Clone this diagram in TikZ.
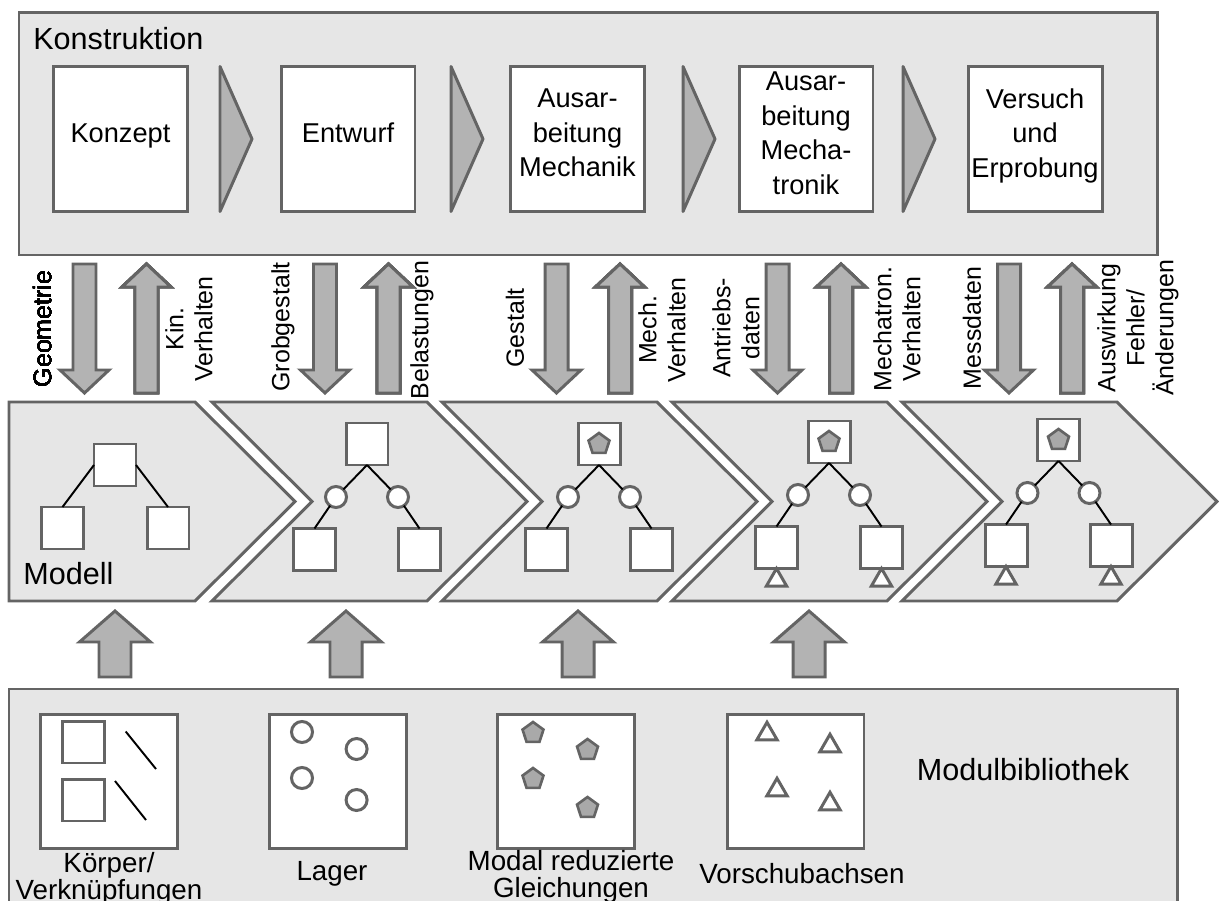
\documentclass[tikz,border=0pt]{standalone}
\usepackage{fontspec}
\setmainfont{Liberation Sans}
\usepackage{tikz}
\usetikzlibrary{shapes.geometric}

\definecolor{panelgray}{HTML}{E6E6E6}
\definecolor{arrowgray}{HTML}{B3B3B3}
\definecolor{modalgray}{HTML}{A9A9A9}
\definecolor{edgegray}{HTML}{646464}

\newcommand{\titlefont}{\fontsize{17.4}{21}\selectfont}
\newcommand{\boxfont}{\fontsize{15.5}{19.6}\selectfont}
\newcommand{\arrowfont}{\fontsize{14.2}{16.5}\selectfont}
\newcommand{\libfont}{\fontsize{15.8}{15.4}\selectfont}

% block arrow: x, tail y, head base y, tip y, half shaft, half head
\newcommand{\blockarrow}[6]{%
  \draw [flow] (#1-#5,#2) -- (#1+#5,#2) -- (#1+#5,#3) -- (#1+#6,#3) -- (#1,#4)
    -- (#1-#6,#3) -- (#1-#5,#3) -- cycle;}

\begin{document}
\begin{tikzpicture}[x=0.02cm, y=-0.02cm,
  panel/.style={fill=panelgray, draw=edgegray, line width=1.7pt},
  stepbox/.style={draw=edgegray, fill=white, line width=1.7pt, minimum width=2.68cm,
    minimum height=2.9cm, inner sep=0pt, align=center, font=\boxfont, text depth=0.24cm},
  stepchev/.style={fill=arrowgray, draw=edgegray, line width=1.7pt, line join=round},
  flow/.style={fill=arrowgray, draw=edgegray, line width=1.7pt},
  flowtext/.style={rotate=90, align=center, font=\arrowfont, inner sep=0pt},
  title/.style={font=\titlefont, inner sep=0pt},
  leaf/.style={draw=edgegray, fill=white, line width=1.7pt, minimum size=0.84cm,
    inner sep=0pt, outer sep=0pt},
  joint/.style={circle, draw=edgegray, fill=white, line width=1.7pt,
    minimum size=0.42cm, inner sep=0pt, outer sep=0pt},
  modal/.style={regular polygon, regular polygon sides=5, draw=edgegray,
    fill=modalgray, line width=1.5pt, minimum size=0.44cm, inner sep=0pt},
  axis/.style={regular polygon, regular polygon sides=3, draw=edgegray, fill=white,
    line width=1.7pt, minimum size=0.47cm, inner sep=0pt, outer sep=0pt},
  link/.style={black, line width=1.1pt},
  libbox/.style={draw=edgegray, fill=white, line width=1.7pt, minimum width=2.74cm,
    minimum height=2.68cm, inner sep=0pt},
  libtext/.style={align=center, font=\libfont, inner sep=0pt}]
\useasboundingbox (0,0) rectangle (1219,901);
\clip (0,0) rectangle (1219,901);

% Konstruktion
\draw [panel] (19,13) rectangle (1157,255);
\node [title, anchor=base west] (konstruktion) at (33,50) {Konstruktion};
\node [stepbox] (konzept) at (120.5,139) {Konzept};
\node [stepbox] (entwurf) at (348,139) {Entwurf};
\node [stepbox] (mechanik) at (577.5,139) {Ausar-\\beitung\\Mechanik};
\node [stepbox] (mechatronik) at (806,139) {Ausar-\\beitung\\Mecha-\\tronik};
\node [stepbox] (versuch) at (1035,139) {Versuch\\und\\Erprobung};
\foreach \a in {220,451,683,903}
  \draw [stepchev] (\a,66.5) -- (\a+32,139) -- (\a,211.5) -- cycle;

% exchange between Konstruktion and Modell
\foreach \x in {84.5,325,556.5,777.5,1009}
  \blockarrow{\x}{264}{370}{393}{11.5}{24.5}
\foreach \x in {146.5,388.5,620,841,1072}
  \blockarrow{\x}{393}{287}{264}{11.5}{24.5}
\node [flowtext] (geometrie) at (42.3,329) {Geometrie};
\node [flowtext] (kin) at (189,329) {Kin.\\Verhalten};
\node [flowtext] (grobgestalt) at (283,327) {Grobgestalt};
\node [flowtext] (belastungen) at (422,330) {Belastungen};
\node [flowtext] (gestalt) at (515,328) {Gestalt};
\node [flowtext] (mech) at (662,330) {Mech.\\Verhalten};
\node [flowtext] (antrieb) at (736,328) {Antriebs-\\daten};
\node [flowtext] (mechatron) at (897,329) {Mechatron.\\Verhalten};
\node [flowtext] (messdaten) at (972,328) {Messdaten};
\node [flowtext] (auswirkung) at (1138,328) {Auswirkung\\Fehler/\\Änderungen};

% Modell
\draw [panel] (9,402) -- (195,402) -- (295,501.5) -- (195,601) -- (9,601) -- cycle;
\foreach \l in {212,442,672,902}
  \draw [panel] (\l,402) -- (\l+215,402) -- (\l+315,501.5) -- (\l+215,601)
    -- (\l,601) -- (\l+100,501.5) -- cycle;
\node [title, anchor=base west] (modell) at (23,584) {Modell};

\node [leaf] (t1) at (115,465) {};
\node [leaf] (bl1) at (62.5,528) {};
\node [leaf] (br1) at (168,528) {};
\draw [link] (t1.west) -- (bl1.north) (t1.east) -- (br1.north);

\foreach \n/\tx/\ty in {2/367/444,3/599/444,4/829/442,5/1058.5/440} {
  \node [leaf] (t\n) at (\tx,\ty) {};
  \node [joint] (cl\n) at (\tx-31,\ty+53) {};
  \node [joint] (cr\n) at (\tx+31,\ty+53) {};
  \node [leaf] (bl\n) at (\tx-52.5,\ty+105.5) {};
  \node [leaf] (br\n) at (\tx+52.5,\ty+105.5) {};
  \draw [link] (t\n.south) -- (cl\n) (t\n.south) -- (cr\n)
    (cl\n) -- (bl\n.north) (cr\n) -- (br\n.north);
}
\foreach \n in {3,4,5}
  \node [modal] (p\n) at (t\n) {};
\foreach \n in {4,5} {
  \node [axis, anchor=north] (al\n) at (bl\n.south) {};
  \node [axis, anchor=north] (ar\n) at (br\n.south) {};
}

% Modulbibliothek
\foreach \x in {115,346,578,809}
  \blockarrow{\x}{677}{642}{611}{16}{35.5}
\draw [panel] (9,689) rectangle (1177,940);
\node [title] (modulbibliothek) at (1023,770) {Modulbibliothek};

\node [libbox] (koerper) at (109.25,781.5) {};
\node [leaf] (k1) at (83.5,742) {};
\node [leaf] (k2) at (83.5,800) {};
\draw [link] (125.7,731.5) -- (156,769);
\draw [link] (115,781) -- (146,820);

\node [libbox] (lager) at (338,781.5) {};
\foreach \x/\y [count=\i] in {302/732,356.6/749,302/778,356.6/800}
  \node [joint] (lg\i) at (\x,\y) {};

\node [libbox] (modal) at (566.3,781.5) {};
\foreach \x/\y [count=\i] in {533/733,587.5/750,533/779,587.5/808}
  \node [modal] (md\i) at (\x,\y) {};

\node [libbox] (vorschub) at (795.5,781.5) {};
\foreach \x/\y [count=\i] in {767/734,830/746,777/790,830/804}
  \node [axis] (vs\i) at (\x,\y) {};

\node [libtext] (koerpertext) at (109,879) {Körper/\\Verknüpfungen};
\node [libtext] (lagertext) at (332,874) {Lager};
\node [libtext] (modaltext) at (571,877) {Modal reduzierte\\Gleichungen};
\node [libtext] (vorschubtext) at (802,874) {Vorschubachsen};
\end{tikzpicture}
\end{document}
